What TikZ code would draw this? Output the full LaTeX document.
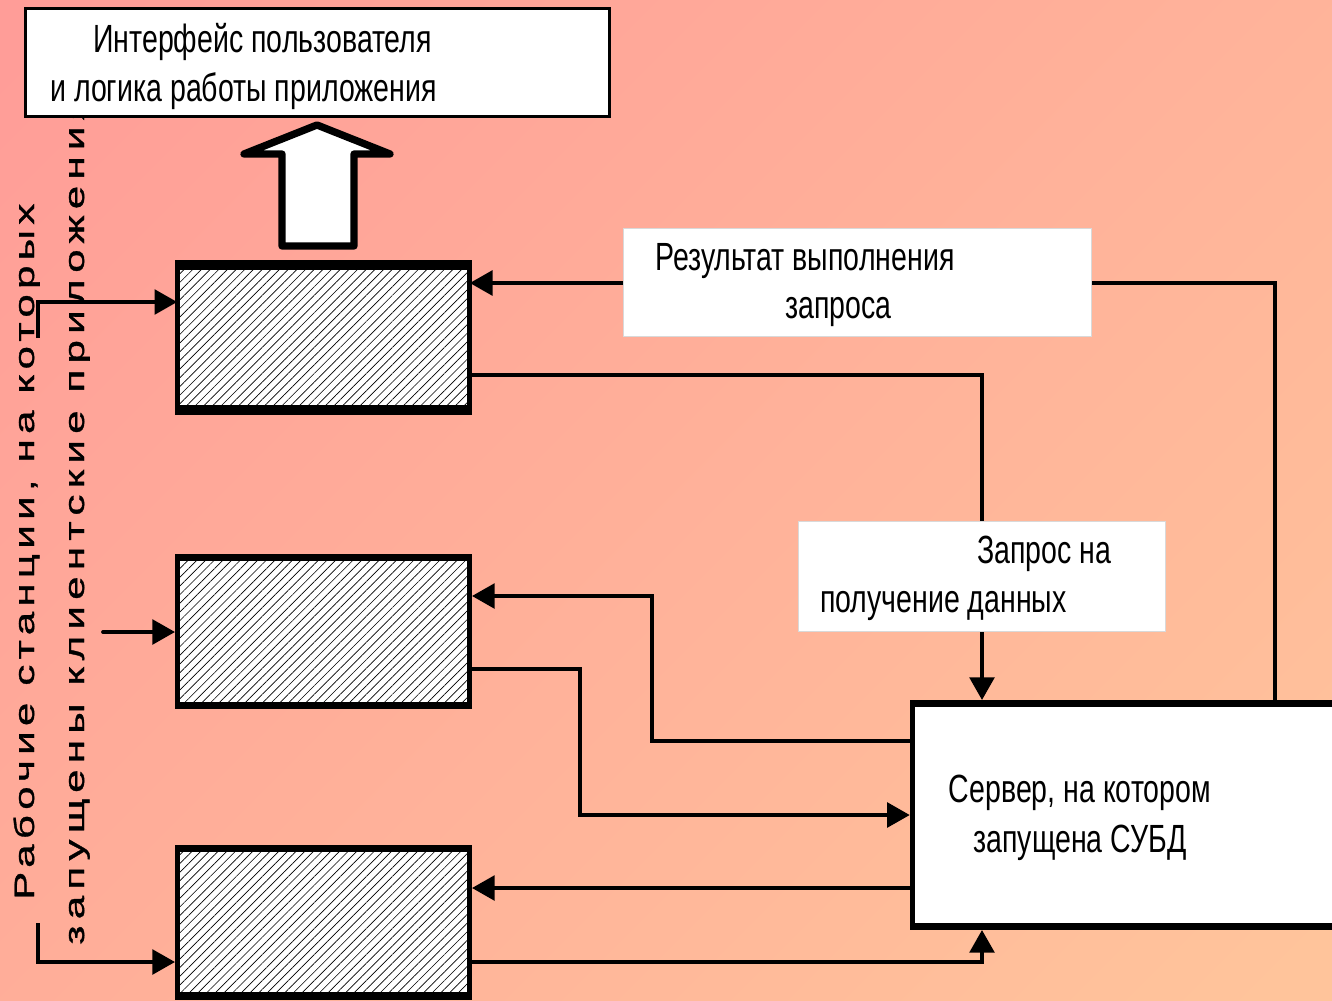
\documentclass[tikz,border=0pt]{standalone}
\usepackage{fontspec}
\setmainfont[FakeStretch=0.725]{Liberation Sans}
\newfontfamily\vfontA[FakeStretch=1.5,LetterSpace=19,FakeBold=1.2]{Liberation Sans}
\newfontfamily\vfontB[FakeStretch=1.5,LetterSpace=22.5,FakeBold=1.2]{Liberation Sans}
\usetikzlibrary{arrows.meta,patterns.meta}
\definecolor{bgA}{HTML}{FF9D98}
\definecolor{bgB}{HTML}{FFC49B}
\begin{document}
\begin{tikzpicture}[x=0.75pt,y=-0.75pt,
  conn/.style={line width=2.8pt},
  tip/.style={-{Triangle[length=17pt,width=18.5pt]}},
  wsbox/.style={draw,line width=3.75pt,preaction={fill=white},
    pattern={Lines[angle=45,distance=4.6pt,line width=0.5pt]},
    minimum width=219pt,minimum height=112.5pt,inner sep=0pt},
  lbl/.style={fill=white,draw=black!15,line width=0.5pt,inner sep=0pt},
  txt/.style={font=\fontsize{29.5}{35}\selectfont,inner sep=0pt,anchor=base west},
  vtxt/.style={inner sep=0pt,anchor=base west,rotate=90}]
\useasboundingbox (0,0) rectangle (1332,1000);
\clip (0,0) rectangle (1332,1000);
\shade[top color=bgA,bottom color=bgB,shading angle=45] (-200,-200) rectangle (1532,1200);

% vertical caption
\node[vtxt,font=\vfontA\fontsize{21}{25}\selectfont] (v1) at (34,900) {Рабочие станции, на которых};
\node[vtxt,font=\vfontB\fontsize{21}{25}\selectfont] (v2) at (84,945) {запущены клиентские приложения};

% workstations
\node[wsbox] (w1) at (323.5,337.5) {};
\node[wsbox] (w2) at (323.5,631.5) {};
\node[wsbox] (w3) at (323.5,922) {};
\foreach \w in {w1,w2,w3}{
  \fill (\w.north west) rectangle ([yshift=-5.6pt]\w.north east);
  \fill (\w.south west) rectangle ([yshift=5.6pt]\w.south east);
}

% server
\node[draw,line width=3.75pt,fill=white,minimum width=335.6pt,minimum height=168.75pt,inner sep=0pt] (srv) at (1136,815) {};
\fill (srv.north west) rectangle ([yshift=-5.6pt]srv.north east);
\fill (srv.south west) rectangle ([yshift=5.6pt]srv.south east);
\node[font=\fontsize{29.5}{37.5}\selectfont,align=center,inner sep=0pt] (srvt) at (1080,818) {Сервер, на котором\\запущена СУБД};

% left inputs
\coordinate (i1) at (38,338);
\coordinate (i2) at (103,632);
\coordinate (i3) at (38,923);
\draw[conn,tip,line join=miter] (i1) |- (w1.west |- 0,302);
\draw[conn,tip,line cap=round] (i2) -- (w2.west |- 0,632);
\draw[conn,tip] (i3) |- (w3.west |- 0,962);

% connectors
\draw[conn,tip] (srv.north -| 1275,0) |- (w1.east |- 0,283);
\draw[conn,tip] (w1.east |- 0,375) -| (srv.north -| 982,0);
\draw[conn,tip] (srv.west |- 0,741) -| (652,596) -- (w2.east |- 0,596);
\draw[conn,tip] (w2.east |- 0,669) -| (580,815) -- (srv.west |- 0,815);
\draw[conn,tip] (srv.west |- 0,888) -- (w3.east |- 0,888);
\draw[conn,tip] (w3.east |- 0,962) -| (srv.south -| 982,0);

% labels
\node[lbl,minimum width=351pt,minimum height=81pt] (res) at (857,282) {};
\node[txt] (res1) at (655,270) {Результат выполнения};
\node[txt] (res2) at (785,318) {запроса};
\node[lbl,minimum width=275pt,minimum height=82.5pt] (qry) at (981.5,576) {};
\node[txt] (qry1) at (977,563) {Запрос на};
\node[txt] (qry2) at (820,612) {получение данных};

% top box
\node[draw,line width=2.3pt,fill=white,minimum width=438.5pt,minimum height=81.5pt,inner sep=0pt] (ui) at (317.5,62.5) {};
\node[txt] (ui1) at (93,52) {Интерфейс пользователя};
\node[txt] (ui2) at (50,101) {и логика работы приложения};

% hollow arrow
\draw[line width=5.5pt,fill=white,line join=round] (317,125) -- (390,154) -- (354,154) -- (354,246) -- (282,246) -- (282,154) -- (244,154) -- cycle;
\end{tikzpicture}
\end{document}
